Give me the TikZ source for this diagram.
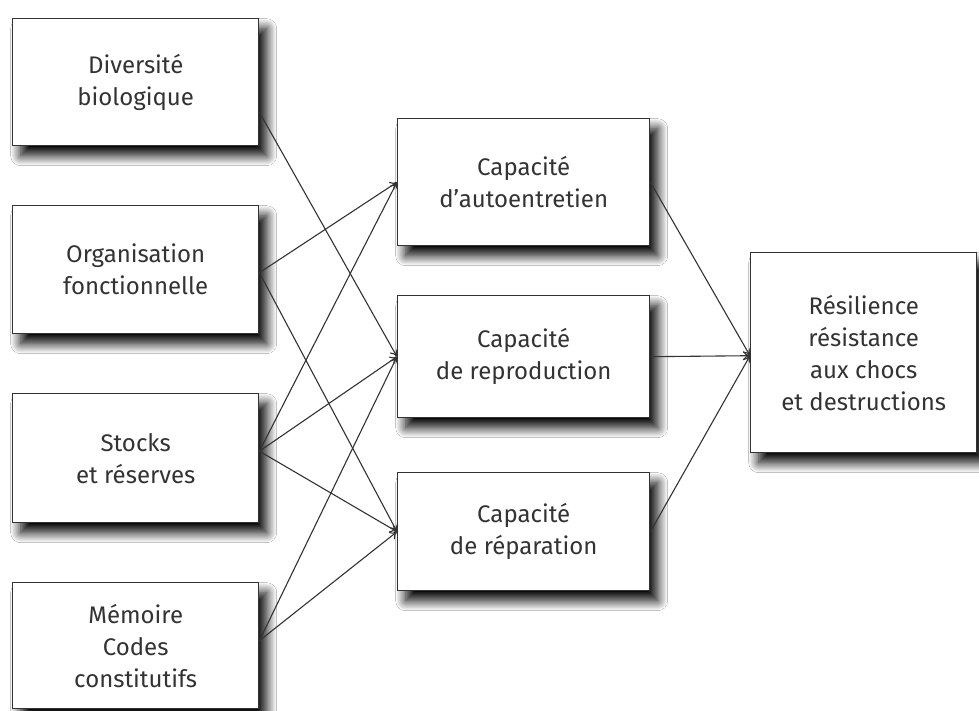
\documentclass[tikz,border=0pt]{standalone}
\usepackage{fontspec}
\setmainfont{Fira Sans}
\usetikzlibrary{arrows.meta,shadows.blur}
\definecolor{ink}{HTML}{333333}
\begin{document}
\begin{tikzpicture}[x=1pt,y=-1pt,
  box/.style={draw=ink, line width=1.4pt, fill=white, anchor=north west,
    align=center, text=ink, inner sep=0pt,
    font=\fontsize{24}{32}\selectfont,
    blur shadow={shadow xshift=8pt, shadow yshift=-10pt, shadow blur radius=10pt, shadow opacity=100, shadow blur steps=14}},
  link/.style={draw=ink, line width=1.1pt, -{To[length=7pt,width=9pt]}}]
\useasboundingbox[fill=white] (0,0) rectangle (979,711);
% left column
\node[box, minimum width=246pt, minimum height=127pt] (L1) at (12,18) {Diversité\\biologique};
\node[box, minimum width=246pt, minimum height=128pt] (L2) at (12,205) {Organisation\\fonctionnelle};
\node[box, minimum width=246pt, minimum height=129pt] (L3) at (12,393) {Stocks\\et réserves};
\node[box, minimum width=246pt, minimum height=126pt] (L4) at (12,582) {Mémoire\\Codes\\constitutifs};
% middle column
\node[box, minimum width=252pt, minimum height=127pt] (A) at (397,118) {Capacité\\d’autoentretien};
\node[box, minimum width=252pt, minimum height=122pt] (B) at (397,295) {Capacité\\de reproduction};
\node[box, minimum width=252pt, minimum height=118pt] (C) at (397,472) {Capacité\\de réparation};
% right
\node[box, minimum width=226pt, minimum height=200pt] (R) at (750,252) {Résilience\\résistance\\aux chocs\\et destructions};
% connectors
\coordinate (o1) at ([yshift=-30pt]L1.east);
\coordinate (o2) at ([yshift=-3pt]L2.east);
\coordinate (o3) at ([yshift=7pt]L3.east);
\coordinate (o4) at ([yshift=5pt]L4.east);
\draw[link] (o1) -- (B.west);
\draw[link] (o2) -- (A.west);
\draw[link] (o2) -- (C.west);
\draw[link] (o3) -- (A.west);
\draw[link] (o3) -- (B.west);
\draw[link] (o3) -- (C.west);
\draw[link] (o4) -- (B.west);
\draw[link] (o4) -- (C.west);
\draw[link] (A.east) -- ([yshift=-3pt]R.west);
\draw[link] (B.east) -- ([yshift=-3pt]R.west);
\draw[link] (C.east) -- ([yshift=-3pt]R.west);
\end{tikzpicture}
\end{document}
